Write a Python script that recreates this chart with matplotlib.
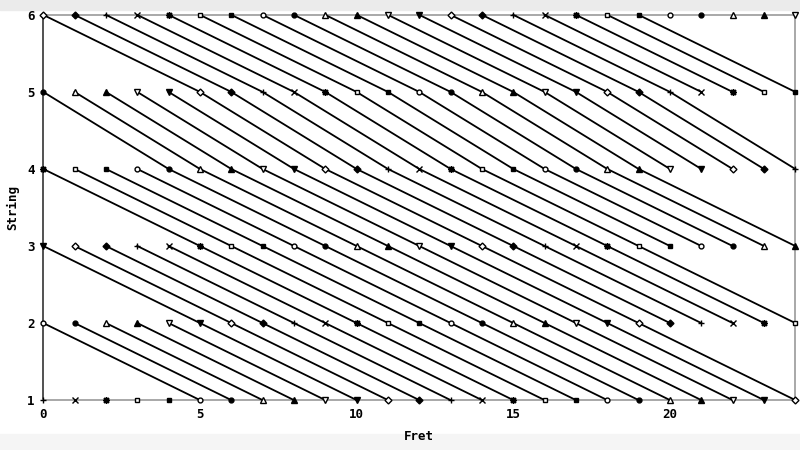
import matplotlib
matplotlib.use("Agg")
import matplotlib.pyplot as plt
from matplotlib.patches import Rectangle

# guitar strings (1 = low E) and their open-string offset in semitones
strings = [1, 2, 3, 4, 5, 6]
open_offset = [0, 5, 10, 15, 19, 24]
n_frets = 24
x_ticks = [0, 5, 10, 15, 20]

# gnuplot-like point types, cycled per pitch
markers = ['+', 'x', (8, 2, 0), 's', 's', 'o', 'o', '^', '^', 'v', 'v', 'D', 'D']
filled = [True, True, True, False, True, False, True, False, True, False, True, False, True]
sizes = [5, 4.5, 5, 3.5, 3.5, 3.5, 3.5, 4.5, 4.5, 4.5, 4.5, 3.5, 3.5]

plt.rcParams['font.family'] = ['DejaVu Sans Mono']
plt.rcParams['font.weight'] = 'bold'

fig = plt.figure(figsize=(8, 4.5), dpi=100)
fig.patch.set_facecolor('white')
# light grey strips at the top and bottom edges of the picture
fig.patches.append(Rectangle((0, 0.978), 1, 0.022, transform=fig.transFigure,
                             color='#ebebeb', zorder=-10))
fig.patches.append(Rectangle((0, 0), 1, 0.035, transform=fig.transFigure,
                             color='#f5f5f5', zorder=-10))
ax = fig.add_axes([0.054, 0.111, 0.94, 0.856])

n_pitch = open_offset[-1] + n_frets + 1
for p in range(n_pitch):
    xs, ys = [], []
    for s, off in zip(strings, open_offset):
        f = p - off
        if 0 <= f <= n_frets:
            xs.append(f)
            ys.append(s)
    k = p % len(markers)
    ax.plot(xs, ys, color='black', lw=1.3, marker=markers[k], ms=sizes[k],
            mew=1.0, mfc='black' if filled[k] else 'white', mec='black',
            clip_on=False, zorder=3)

ax.set_xlim(0, n_frets)
ax.set_ylim(1, 6)
ax.set_xticks(x_ticks)
ax.set_yticks(strings)
ax.tick_params(length=0, labelsize=9, pad=6)
for side in ['top', 'right', 'bottom']:
    ax.spines[side].set_color('#999999')
ax.spines['left'].set_color('#333333')
for sp in ax.spines.values():
    sp.set_linewidth(1.2)
ax.set_xlabel('Fret', fontsize=9, fontweight='bold', labelpad=6)
ax.set_ylabel('String', fontsize=9, fontweight='bold', labelpad=6)

fig.savefig('out.png', dpi=100, facecolor=fig.get_facecolor())
